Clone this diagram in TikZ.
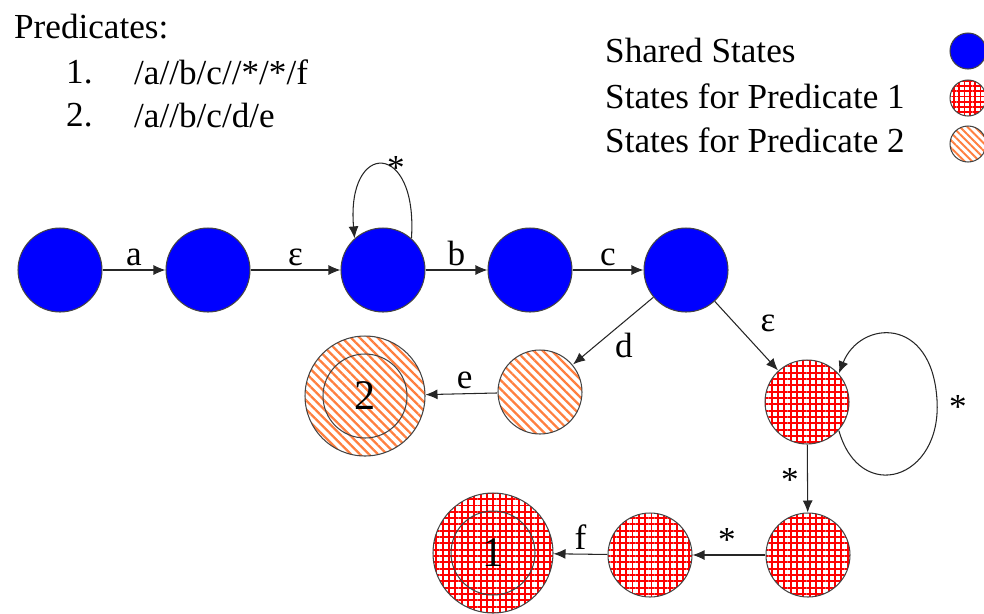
\documentclass[tikz,border=0pt]{standalone}
\usepackage{fontspec}
\setmainfont{Liberation Serif}
\usetikzlibrary{arrows.meta, patterns.meta}
\definecolor{shblue}{HTML}{0000FF}
\definecolor{pred1red}{HTML}{FF0000}
\definecolor{pred2orange}{HTML}{FF7F3F}
\definecolor{rimgray}{HTML}{444444}

\tikzset{
  state/.style={circle, draw=rimgray, line width=0.6pt, minimum size=1.68cm, inner sep=0pt},
  shared/.style={state, fill=shblue},
  predone/.style={state, fill=white, pattern={Hatch[distance=3.6pt, line width=1.1pt]}, pattern color=pred1red},
  predtwo/.style={state, fill=white, pattern={Lines[angle=-45, distance=3.6pt, line width=1.3pt]}, pattern color=pred2orange},
  final/.style={minimum size=2.4cm},
  legdot/.style={circle, draw=rimgray, line width=0.6pt, minimum size=0.72cm, inner sep=0pt},
  edge/.style={-{Latex[length=2.4mm, width=2mm]}, line width=0.6pt, draw=black!85},
  lbl/.style={font=\fontsize{20}{24}\selectfont},
  digit/.style={font=\fontsize{24}{28}\selectfont},
}

\begin{document}
\begin{tikzpicture}[x=0.02cm, y=-0.02cm]
\useasboundingbox (0,0) rectangle (984,613);

% Predicates list
\node[lbl, anchor=west] (ptitle) at (8,27) {Predicates:};
\node[lbl, anchor=west] (pnum1) at (60,72) {1.};
\node[lbl, anchor=west] (pexp1) at (128,72) {/a//b/c//*/*/f};
\node[lbl, anchor=west] (pnum2) at (60,115) {2.};
\node[lbl, anchor=west] (pexp2) at (128,115) {/a//b/c/d/e};

% Legend
\node[lbl, anchor=west] (legshared) at (599,50) {Shared States};
\node[lbl, anchor=west] (legone) at (599,96) {States for Predicate 1};
\node[lbl, anchor=west] (legtwo) at (599,140) {States for Predicate 2};
\node[legdot, fill=shblue] (dotshared) at (968,51) {};
\node[legdot, fill=white, pattern={Hatch[distance=3pt, line width=1pt]}, pattern color=pred1red] (dotone) at (968,98) {};
\node[legdot, fill=white, pattern={Lines[angle=-45, distance=3pt, line width=1.1pt]}, pattern color=pred2orange] (dottwo) at (968,144) {};

% Shared states
\node[shared] (s1) at (60,270) {};
\node[shared] (s2) at (208,270) {};
\node[shared] (s3) at (383,270) {};
\node[shared] (s4) at (530,270) {};
\node[shared] (s5) at (686,270) {};

% Predicate 2 states
\node[predtwo] (q2a) at (540,392) {};
\node[predtwo, final] (q2f) at (365,396) {};
\draw[rimgray, line width=0.6pt] (q2f) circle (42);
\node[digit] (q2lbl) at (q2f) {2};

% Predicate 1 states
\node[predone] (q1a) at (807,402) {};
\node[predone] (q1b) at (808,555) {};
\node[predone] (q1c) at (650,555) {};
\node[predone, final] (q1f) at (493,553) {};
\draw[rimgray, line width=0.6pt] (q1f) circle (42);
\node[digit] (q1lbl) at (q1f) {1};

% Transitions
\draw[edge] (s1) -- node[lbl, above=-1pt] {a} (s2);
\draw[edge] (s2) -- node[lbl, above=-1pt] {ε} (s3);
\draw[edge] (s3) -- node[lbl, above=-1pt] {b} (s4);
\draw[edge] (s4) -- node[lbl, above=-1pt] {c} (s5);
\draw[edge] (s3.48) .. controls (418,140) and (346,140) .. (s3.132);
\node[lbl] (starthree) at (396,168) {*};

\draw[edge] (s5) -- (q2a);
\node[lbl] (dlbl) at (624,345) {d};
\draw[edge] (q2a) -- node[lbl, above=-1pt, pos=0.45] {e} (q2f);

\draw[edge] (s5) -- (q1a);
\node[lbl] (epslbl) at (768,323) {ε};
\draw[edge] (q1a.-42) .. controls (860,505) and (942,480) .. (937,400)
  .. controls (932,315) and (860,320) .. (q1a.42);
\node[lbl] (starloop) at (958,407) {*};

\draw[edge] (q1a) -- (q1b);
\node[lbl] (stardown) at (790,480) {*};
\draw[edge] (q1b) -- (q1c);
\node[lbl] (starleft) at (727,540) {*};
\draw[edge] (q1c) -- node[lbl, above=-1pt] {f} (q1f);
\end{tikzpicture}
\end{document}
